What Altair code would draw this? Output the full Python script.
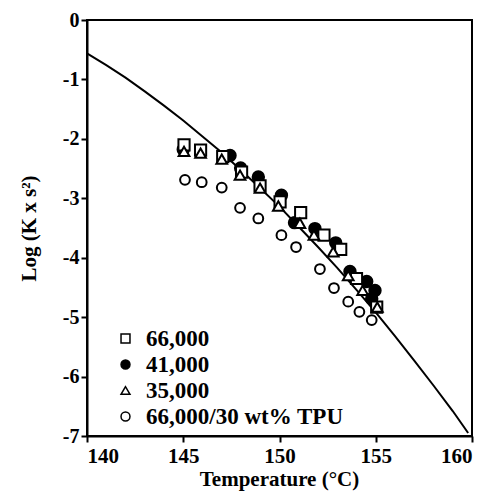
import altair as alt
import pandas as pd

# Fitted curve
line_T = [140, 141, 142, 143, 144, 145, 146, 147, 148, 149, 150, 151, 152, 153,
          154, 155, 156, 157, 158, 159, 159.8]
line_y = [-0.56, -0.76, -0.97, -1.20, -1.44, -1.69, -1.96, -2.23, -2.53, -2.83,
          -3.14, -3.48, -3.82, -4.17, -4.54, -4.92, -5.32, -5.73, -6.15, -6.58, -6.95]

# 66,000 (open squares)
sq_T = [145.04, 145.9, 147.05, 148.03, 148.99, 150.03, 151.1, 152.31, 153.18, 154.0, 155.05]
sq_y = [-2.10, -2.19, -2.30, -2.56, -2.79, -3.06, -3.24, -3.62, -3.86, -4.35, -4.83]

# 41,000 (filled circles)
fc_T = [145.0, 147.43, 147.98, 148.9, 150.1, 150.78, 151.84, 152.92, 153.66, 154.53, 154.96, 154.79]
fc_y = [-2.18, -2.28, -2.49, -2.64, -2.95, -3.41, -3.51, -3.75, -4.23, -4.40, -4.55, -4.69]

# 35,000 (open triangles)
tri_T = [145.04, 145.9, 147.0, 147.95, 148.99, 149.94, 151.06, 151.79, 152.79, 153.57, 154.32, 155.08]
tri_y = [-2.21, -2.24, -2.34, -2.61, -2.83, -3.13, -3.42, -3.62, -3.90, -4.30, -4.55, -4.83]

# 66,000/30 wt% TPU (open circles)
tpu_T = [145.09, 145.96, 147.0, 147.95, 148.9, 150.1, 150.86, 152.1, 152.83, 153.57, 154.15, 154.79]
tpu_y = [-2.69, -2.73, -2.82, -3.16, -3.34, -3.62, -3.82, -4.19, -4.51, -4.74, -4.91, -5.05]

legend_order = ["66,000", "41,000", "35,000", "66,000/30 wt% TPU"]
shape_range = ["square", "circle", "triangle-up", "circle"]
fill_range = ["white", "black", "white", "white"]
stroke_range = ["black", "black", "black", "black"]
x_ticks = [140, 145, 150, 155, 160]
y_ticks = [0, -1, -2, -3, -4, -5, -6, -7]

FONT = "Liberation Serif"

line_df = pd.DataFrame({"T": line_T, "logK": line_y})

x_enc = alt.X("T:Q", scale=alt.Scale(domain=[140, 160], nice=False, zero=False),
              axis=alt.Axis(values=x_ticks, title="Temperature (°C)", tickSize=6,
                            labelPadding=3, titleX=192, titleY=32,
                            titleAlign="center", titleBaseline="top",
                            labelFont=FONT, labelFontWeight=700, labelFontSize=21,
                            titleFont=FONT, titleFontWeight="bold", titleFontSize=21))
y_enc = alt.Y("logK:Q", scale=alt.Scale(domain=[-7, 0], nice=False, zero=False),
              axis=alt.Axis(values=y_ticks, title="Log (K x s²)", tickSize=6,
                            labelPadding=2, labelExpr="'' + datum.value",
                            titleAngle=-90, titleX=-58, titleY=208,
                            titleAlign="center", titleBaseline="middle",
                            labelFont=FONT, labelFontWeight=700, labelFontSize=20,
                            titleFont=FONT, titleFontWeight="bold", titleFontSize=21))

line = alt.Chart(line_df).mark_line(color="black", strokeWidth=2).encode(x=x_enc, y=y_enc)

leg = alt.Legend(title=None, orient="none", legendX=27, legendY=307,
                 labelFont=FONT, labelFontWeight="bold", labelFontSize=23,
                 labelColor="black", labelLimit=0, symbolSize=80,
                 symbolStrokeColor="black", symbolStrokeWidth=1.5,
                 labelOffset=9, rowPadding=2, padding=0)

draw_sets = [
    ("66,000/30 wt% TPU", tpu_T, tpu_y, 95),
    ("41,000", fc_T, fc_y, 130),
    ("66,000", sq_T, sq_y, 125),
    ("35,000", tri_T, tri_y, 115),
]

layers = [line]
for name, T, Y, sz in draw_sets:
    df = pd.DataFrame({"series": [name] * len(T), "T": T, "logK": Y})
    layers.append(
        alt.Chart(df).mark_point(opacity=1, strokeWidth=2, size=sz).encode(
            x=x_enc,
            y=y_enc,
            shape=alt.Shape("series:N", scale=alt.Scale(domain=legend_order, range=shape_range),
                            legend=leg),
            fill=alt.Fill("series:N", scale=alt.Scale(domain=legend_order, range=fill_range),
                          legend=leg),
            stroke=alt.Stroke("series:N", scale=alt.Scale(domain=legend_order, range=stroke_range),
                              legend=leg),
        )
    )

chart = alt.layer(*layers).properties(
    width=385, height=416,
    autosize=alt.AutoSizeParams(type="none"),
    padding={"left": 79, "top": 12, "right": 11, "bottom": 55},
).configure(
    font=FONT,
    style={"guide-label": {"font": FONT, "fontWeight": "bold", "fontSize": 20, "fill": "black"},
           "guide-title": {"font": FONT, "fontWeight": "bold", "fontSize": 21, "fill": "black"}},
).configure_view(
    stroke="black", strokeWidth=2
).configure_axis(
    grid=False, domainColor="black", domainWidth=2, tickColor="black", tickWidth=2,
    labelColor="black", titleColor="black",
    labelFont=FONT, labelFontWeight=700, titleFont=FONT, titleFontWeight="bold",
)

chart.save("out.html", embed_options={"renderer": "svg", "actions": False})
